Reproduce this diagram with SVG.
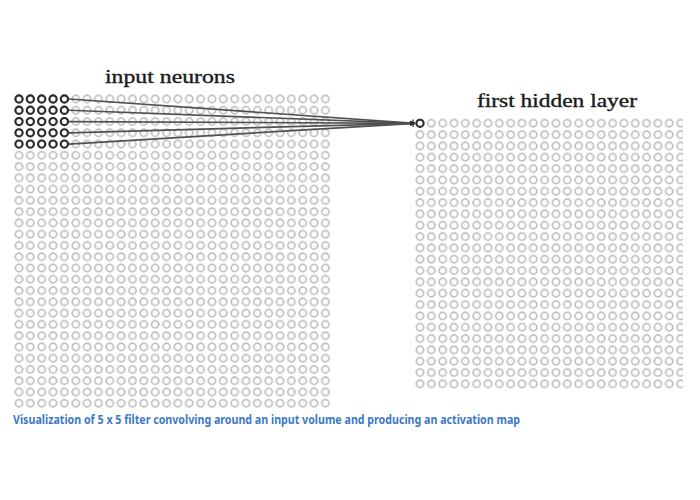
<svg xmlns="http://www.w3.org/2000/svg" width="700" height="500" viewBox="0 0 700 500">
  <style>
    .lbl { font-family: "Liberation Serif", "DejaVu Serif", serif; font-size: 18px; fill: #1a1a1a; stroke: #1a1a1a; stroke-width: 0.35; }
    .cap { font-family: "Noto Sans", "Liberation Sans", sans-serif; font-size: 12.5px; font-weight: bold; fill: #3c78c8; }
    .gray { fill: none; stroke: #bdbdbd; stroke-width: 1.7; }
    .dark { fill: none; stroke: #2b2b2b; stroke-width: 2.1; }
    .conn { fill: none; stroke: #505050; stroke-width: 1.7; }
  </style>
  <defs>
    <pattern id="pIn" patternUnits="userSpaceOnUse" x="13.325" y="93.365" width="11.35" height="11.27">
      <circle cx="5.675" cy="5.635" r="3.6" class="gray"/>
    </pattern>
    <pattern id="pHid" patternUnits="userSpaceOnUse" x="414.335" y="117.635" width="11.33" height="11.33">
      <circle cx="5.665" cy="5.665" r="3.6" class="gray"/>
    </pattern>
    <clipPath id="clipRight">
      <rect x="0" y="0" width="683" height="500"/>
    </clipPath>
    <marker id="arr" viewBox="0 0 8 8" refX="8" refY="4" markerWidth="5" markerHeight="5" orient="auto" markerUnits="userSpaceOnUse">
      <path d="M0,0 L8,4 L0,8 Z" fill="#333"/>
    </marker>
  </defs>
  <rect width="700" height="500" fill="#fff"/>

  <g id="input-layer">
    <rect x="13.325" y="93.365" width="317.8" height="315.56" fill="url(#pIn)"/>
  </g>

  <g id="hidden-layer" clip-path="url(#clipRight)">
    <rect x="414.335" y="117.635" width="271.92" height="271.92" fill="url(#pHid)"/>
  </g>

  <g id="connectors">
    <line class="conn" x1="69" y1="99" x2="415" y2="123.3" marker-end="url(#arr)"/>
    <line class="conn" x1="69" y1="110.27" x2="415" y2="123.3" marker-end="url(#arr)"/>
    <line class="conn" x1="69" y1="121.54" x2="415" y2="123.3" marker-end="url(#arr)"/>
    <line class="conn" x1="69" y1="132.81" x2="415" y2="123.3" marker-end="url(#arr)"/>
    <line class="conn" x1="69" y1="144.08" x2="415" y2="123.3" marker-end="url(#arr)"/>
    <line x1="413" y1="119.5" x2="413" y2="127" stroke="#333" stroke-width="1.3"/>
  </g>

  <g id="receptive-field">
    <circle class="dark" cx="19" cy="99" r="3.6"/>
    <circle class="dark" cx="30.35" cy="99" r="3.6"/>
    <circle class="dark" cx="41.7" cy="99" r="3.6"/>
    <circle class="dark" cx="53.05" cy="99" r="3.6"/>
    <circle class="dark" cx="64.4" cy="99" r="3.6"/>
    <circle class="dark" cx="19" cy="110.27" r="3.6"/>
    <circle class="dark" cx="30.35" cy="110.27" r="3.6"/>
    <circle class="dark" cx="41.7" cy="110.27" r="3.6"/>
    <circle class="dark" cx="53.05" cy="110.27" r="3.6"/>
    <circle class="dark" cx="64.4" cy="110.27" r="3.6"/>
    <circle class="dark" cx="19" cy="121.54" r="3.6"/>
    <circle class="dark" cx="30.35" cy="121.54" r="3.6"/>
    <circle class="dark" cx="41.7" cy="121.54" r="3.6"/>
    <circle class="dark" cx="53.05" cy="121.54" r="3.6"/>
    <circle class="dark" cx="64.4" cy="121.54" r="3.6"/>
    <circle class="dark" cx="19" cy="132.81" r="3.6"/>
    <circle class="dark" cx="30.35" cy="132.81" r="3.6"/>
    <circle class="dark" cx="41.7" cy="132.81" r="3.6"/>
    <circle class="dark" cx="53.05" cy="132.81" r="3.6"/>
    <circle class="dark" cx="64.4" cy="132.81" r="3.6"/>
    <circle class="dark" cx="19" cy="144.08" r="3.6"/>
    <circle class="dark" cx="30.35" cy="144.08" r="3.6"/>
    <circle class="dark" cx="41.7" cy="144.08" r="3.6"/>
    <circle class="dark" cx="53.05" cy="144.08" r="3.6"/>
    <circle class="dark" cx="64.4" cy="144.08" r="3.6"/>
  </g>

  <g id="hidden-neuron">
    <circle cx="420" cy="123.3" r="3.6" fill="#fff" stroke="#2b2b2b" stroke-width="2.1"/>
  </g>

  <g id="labels">
    <text class="lbl" x="105" y="83" textLength="130" lengthAdjust="spacingAndGlyphs">input neurons</text>
    <text class="lbl" x="477" y="107" textLength="160" lengthAdjust="spacingAndGlyphs">first hidden layer</text>
    <text class="cap" x="13" y="424" textLength="507" lengthAdjust="spacingAndGlyphs">Visualization of 5 x 5 filter convolving  around an input  volume and producing  an activation map</text>
  </g>
</svg>
